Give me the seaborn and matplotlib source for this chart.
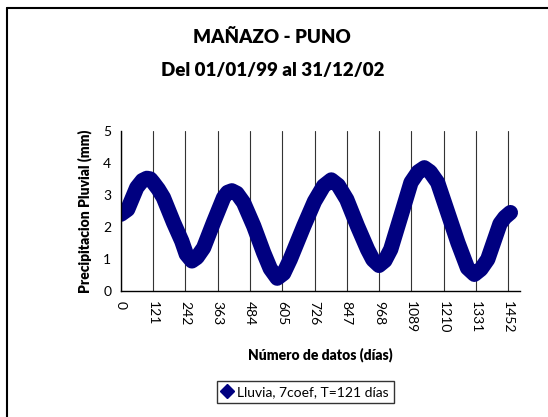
import matplotlib
matplotlib.use("Agg")
import matplotlib.pyplot as plt
from matplotlib.lines import Line2D
import seaborn as sns

# values (day, mm)
DAYS = [0, 25, 59, 80, 97, 110, 121, 140, 159, 197, 228, 245, 266, 285, 310,
        347, 385, 400, 416, 435, 460, 498, 535, 560, 586, 610, 635, 686, 726,
        760, 789, 815, 847, 887, 925, 945, 968, 990, 1012, 1050, 1088, 1115,
        1138, 1160, 1188, 1226, 1264, 1300, 1326, 1350, 1376, 1422, 1440, 1461]
RAIN = [2.40, 2.55, 3.23, 3.45, 3.52, 3.50, 3.39, 3.18, 2.92, 2.14, 1.56,
        1.15, 0.94, 1.05, 1.35, 2.14, 2.92, 3.08, 3.13, 3.05, 2.76, 2.03,
        1.20, 0.70, 0.40, 0.55, 0.99, 2.03, 2.80, 3.28, 3.47, 3.30, 2.86,
        2.03, 1.30, 0.98, 0.80, 0.95, 1.30, 2.34, 3.39, 3.72, 3.85, 3.72,
        3.39, 2.45, 1.51, 0.72, 0.52, 0.68, 0.99, 2.10, 2.30, 2.45]
X_TICKS = [0, 121, 242, 363, 484, 605, 726, 847, 968, 1089, 1210, 1331, 1452]
Y_TICKS = [0, 1, 2, 3, 4, 5]
SERIES = "Lluvia, 7coef, T=121 días"
NAVY = "#000080"


def main():
    sns.set_style("white")
    plt.rcParams["font.family"] = ["Lato", "DejaVu Sans"]

    fig = plt.figure(figsize=(5.48, 4.17), dpi=100)
    ax = fig.add_axes([0.2208, 0.3022, 0.7281, 0.3837])

    sns.lineplot(x=DAYS, y=RAIN, ax=ax, color=NAVY, linewidth=11, sort=False,
                 solid_capstyle="round", solid_joinstyle="round")

    ax.set_xlim(0, 1497)
    ax.set_ylim(0, 5)
    ax.set_xticks(X_TICKS)
    ax.set_xticklabels([str(t) for t in X_TICKS], rotation=-90)
    ax.set_yticks(Y_TICKS)
    ax.tick_params(axis="both", direction="out", length=4, width=0.8,
                   labelsize=10, color="black", labelcolor="black", pad=3)
    ax.xaxis.grid(True, color="#333333", linewidth=0.8)
    ax.set_axisbelow(True)
    for side in ["top", "right"]:
        ax.spines[side].set_visible(False)
    for side in ["left", "bottom"]:
        ax.spines[side].set_color("black")
        ax.spines[side].set_linewidth(1.0)

    ax.set_xlabel("Número de datos (días)", fontsize=10, fontweight="heavy",
                  color="black", labelpad=10)
    ax.set_ylabel("Precipitacion Pluvial (mm)", fontsize=10,
                  fontweight="heavy", color="black", labelpad=8)

    fig.text(0.497, 0.909, "MAÑAZO - PUNO", ha="center", va="center",
             fontsize=13.5, fontweight="heavy", color="black")
    fig.text(0.497, 0.830, "Del 01/01/99 al 31/12/02", ha="center",
             va="center", fontsize=13.5, fontweight="heavy", color="black")

    handle = Line2D([], [], color=NAVY, marker="D", linestyle="none",
                    markersize=7)
    leg = fig.legend([handle], [SERIES], loc="center",
                     bbox_to_anchor=(0.557, 0.060), fontsize=10,
                     frameon=True, fancybox=False, handlelength=0.8,
                     handletextpad=0.3, borderpad=0.35)
    leg.get_frame().set_edgecolor("black")
    leg.get_frame().set_linewidth(1.0)
    for txt in leg.get_texts():
        txt.set_color("black")

    # chart area border (left and top edges visible)
    fig.add_artist(Line2D([7 / 548, 7 / 548], [0, 1 - 8 / 417],
                          transform=fig.transFigure, color="black", lw=1.5))
    fig.add_artist(Line2D([7 / 548, 1], [1 - 8 / 417, 1 - 8 / 417],
                          transform=fig.transFigure, color="black", lw=1.5))

    fig.savefig("out.png", dpi=100)


if __name__ == "__main__":
    main()
